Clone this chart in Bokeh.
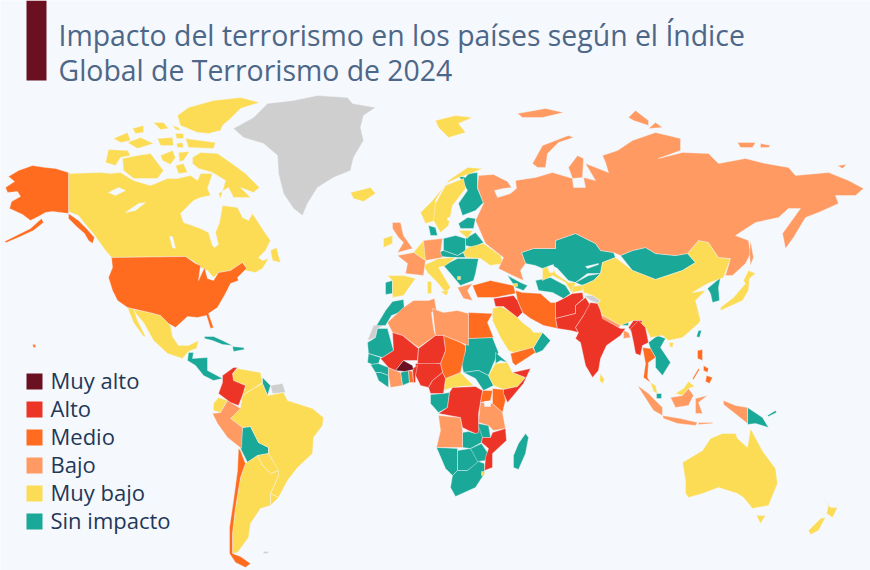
'''
Impacto del terrorismo por pais (indice global 2024), mapa coropletico con Bokeh.
Los contornos estan leidos a mano del mapa, en unidades de mapa "x,y".
'''
from bokeh.core.properties import value
from bokeh.embed import file_html
from bokeh.models import ColumnDataSource, Range1d
from bokeh.plotting import figure
from bokeh.resources import INLINE

TITLE_LINES = ["Impacto del terrorismo en los países según el Índice", "Global de Terrorismo de 2024"]
LEVELS = ["Muy alto", "Alto", "Medio", "Bajo", "Muy bajo", "Sin impacto"]
COLORS = ["#6b1020", "#ec3526", "#ff6c1f", "#ff9a62", "#fcdc55", "#1aa898"]
NO_DATA_COLOR = "#cfcfcf"
BACKGROUND = "#f5f8fc"

MUY_ALTO = {
    "Burkina Faso": "395,370 403,360 412,365 413,369 404,371",
}
ALTO = {
    "Colombia": "233,367 237,367 232,373 233,380 245,385 242,395 238,405 230,402 218,393 222,382 222,375",
    "Mali": "392,332 402,335 418,348 417,360 403,360 395,370 388,367 380,358 382,357 393,350",
    "Niger": "418,348 435,335 443,335 445,350 440,363 425,365 417,363",
    "Nigeria": "415,363 440,363 442,372 432,380 428,387 420,385 415,375",
    "Benin": "412,368 417,365 415,375 415,382 413,382",
    "Cameroon": "442,372 445,378 443,393 430,393 428,387 432,380",
    "DRC": "452,387 475,386 482,390 478,413 478,432 475,433 468,430 462,427 460,417 438,413 447,407 449,392",
    "Somalia": "512,372 530,368 523,383 507,402 503,393 503,389 517,386 525,377",
    "Mozambique": "490,437 492,432 505,428 506,440 492,453 492,467 484,470 485,457 488,448 481,442 482,437",
    "Syria Iraq": "493,298 513,295 517,300 522,312 517,317 508,310 503,306 495,306",
    "Afghanistan": "555,302 563,298 572,293 582,292 583,298 575,305 575,313 555,318",
    "Pakistan": "555,318 575,313 575,305 585,297 590,305 583,315 575,327 578,332 570,330 557,328",
    "India": "590,302 597,303 600,310 602,318 620,328 625,328 620,335 606,345 600,358 598,370 592,377 585,365 580,342 575,338 578,332 575,327 583,315",
    "India NE": "628,327 633,320 642,320 640,325 632,333",
    "Myanmar": "630,328 638,320 645,327 648,342 642,345 640,355 635,353 633,342",
}
MEDIO = {
    "Alaska": "68,172 55,168 45,167 32,165 18,170 8,176 14,181 5,187 7,192 17,191 20,196 11,201 9,208 22,214 30,220 38,216 45,212 52,211 60,212 68,213",
    "Alaska panhandle": "68,213 78,220 86,228 94,237 92,243 88,240 84,233 76,226 68,218",
    "Aleutians": "41,218 30,228 16,235 4,241 6,242 20,236 33,230 43,222",
    "USA": "111,257 185,256 195,263 200,265 198,280 204,267 207,278 213,280 218,272 230,270 242,262 246,268 237,277 238,280 230,283 225,293 217,307 208,313 213,327 210,328 206,315 197,317 187,316 175,327 168,323 160,315 153,313 140,310 127,307 117,300 112,290 108,277 112,267",
    "Hawaii": "32,344 35,344 35,347 33,347",
    "Chile": "238,448 240,450 245,463 240,477 235,507 232,533 232,553 240,556 250,563 245,567 235,562 229,553 229,527 233,500 237,470",
    "Egypt": "468,312 492,313 487,322 493,337 468,338",
    "Chad": "443,335 460,342 465,345 465,350 462,363 460,372 445,378 442,372 440,363 445,350",
    "Togo": "408,370 412,371 413,382 409,382",
    "Kenya": "492,388 503,389 505,400 502,412 492,403",
    "Uganda": "482,390 492,390 490,400 480,402",
    "Yemen": "510,353 532,347 535,352 515,365 512,362",
    "Turkey": "472,285 490,280 513,285 515,293 495,297 477,297",
    "Iran": "515,290 522,292 540,293 550,302 555,302 555,318 557,328 543,325 530,318 522,312 517,300",
    "Thailand": "642,347 650,348 655,357 648,362 647,377 650,382 643,377 645,363",
    "Luzon": "697,350 702,349 702,360 697,358",
    "Mindanao": "706,375 712,377 709,383 705,381",
    "Visayas": "703,365 708,368 707,372 703,370",
    "Palawan": "692,378 698,368 699,369 693,379",
}
BAJO = {
    "Russia": "478,175 493,174 507,181 511,187 503,188 494,190 497,197 510,193 516,188 515,180 535,177 552,172 572,178 573,187 585,187 583,177 595,180 585,163 608,172 605,162 602,155 617,150 632,140 655,132 680,138 680,150 658,158 682,152 708,153 718,163 745,158 765,163 788,167 795,175 828,172 848,180 863,188 855,195 835,195 838,203 818,212 805,217 793,237 785,248 782,233 800,208 788,208 778,217 755,222 735,235 748,240 750,253 745,263 732,275 725,275 730,258 718,257 708,242 698,240 687,253 675,255 655,253 645,247 632,250 620,255 613,252 600,250 595,243 575,233 555,240 555,248 533,248 521,252 525,263 520,270 523,280 512,275 498,268 503,257 485,243 475,220 483,203 477,187",
    "Novaya Zemlya": "532,163 542,145 568,135 573,137 558,142 547,153 545,167 537,167",
    "Yamal": "568,167 577,155 583,158 582,177 572,178",
    "Severnaya 1": "628,117 635,110 648,120 648,125 633,120",
    "Severnaya 2": "648,128 655,122 662,127",
    "Franz Josef": "517,113 545,108 563,112 542,117 522,117",
    "New Siberian 1": "737,142 755,142 752,147 740,147",
    "New Siberian 2": "760,143 770,145 768,147 760,147",
    "Wrangel": "837,165 846,164 842,168",
    "Sakhalin": "750,240 753,257 750,265 749,253",
    "Peru": "227,400 240,408 230,418 242,427 241,448 227,437 217,423 212,413 220,412",
    "Algeria Tunisia": "387,322 403,307 413,300 428,300 434,298 436,310 431,312 433,328 435,335 418,347 402,335 392,332",
    "Libya": "432,308 443,312 457,310 468,313 468,345 460,342 443,335 435,335",
    "Ivory Coast": "388,367 395,370 400,372 402,385 390,387 388,375",
    "Angola": "438,415 460,417 462,430 462,447 436,447 440,430",
    "Tanzania": "480,402 492,403 502,412 505,428 493,430 488,425 478,422",
    "Nepal": "602,315 620,325 618,327 600,318",
    "Bangladesh": "623,330 628,332 630,337 623,338",
    "Germany": "423,240 442,238 440,252 442,257 425,260",
    "UK": "392,222 400,222 403,235 412,248 397,252 403,242 398,237 392,228",
    "France": "397,255 413,252 425,260 423,275 405,273 407,263",
    "Greece": "457,287 472,283 467,290 472,300 463,298",
    "Sumatra": "637,385 648,393 662,407 662,415 653,410 642,393",
    "Java": "662,415 680,418 697,422 695,425 677,423 663,418",
    "Sunda": "698,422 712,422 712,423 698,424",
    "Borneo": "670,397 682,395 688,388 693,395 688,405 675,407",
    "Sulawesi": "695,398 707,395 698,402 702,413 695,413",
    "West Papua": "723,400 735,405 747,407 747,423 737,415 723,404",
}
MUY_BAJO = {
    "Canada": "68,173 100,172 110,173 120,172 133,180 150,185 167,178 177,178 190,175 197,180 200,173 212,173 207,188 210,195 200,197 193,200 180,213 183,222 200,228 208,232 212,245 214,247 218,244 215,232 219,222 222,205 237,207 242,217 248,220 252,213 263,230 270,240 265,250 258,257 262,260 268,258 262,268 255,272 245,270 243,262 230,270 218,272 213,277 207,270 200,267 195,262 185,256 111,257 105,250 100,243 92,232 85,224 78,215 68,211",
    "Newfoundland": "270,250 276,247 280,262 272,260",
    "Baffin": "192,157 200,152 217,153 230,162 245,173 259,187 253,192 240,187 250,197 233,197 228,187 218,193 220,198 225,180 212,172 198,168 192,163",
    "Victoria": "122,158 137,155 150,153 163,170 157,178 133,178 123,170",
    "Banks": "105,162 108,149 127,150 130,155 120,157 115,165",
    "Ellesmere": "188,107 213,100 240,97 259,102 240,108 230,118 222,125 220,130 208,133 197,132 180,125 177,115",
    "Devon": "185,138 215,142 213,148 188,147",
    "Arctic 1": "153,122 163,122 168,128 160,129",
    "Arctic 2": "172,125 178,127 180,130 175,129",
    "Arctic 3": "113,138 127,132 130,140 120,142",
    "Arctic 4": "132,128 143,125 143,132 135,133",
    "Arctic 5": "127,142 140,137 153,143 137,148",
    "Arctic 6": "157,138 172,137 173,145 160,145",
    "Arctic 7": "175,133 183,133 183,138 176,138",
    "Arctic 8": "176,143 182,142 183,147 177,147",
    "Arctic 9": "160,155 172,150 175,157 170,164 162,160",
    "Arctic 10": "178,152 189,151 183,160 179,161",
    "Arctic 11": "175,165 183,163 187,172 178,173",
    "Iceland": "350,192 370,187 375,193 363,201 353,198",
    "Mexico": "140,310 153,313 160,315 168,323 170,325 172,336 178,345 188,345 198,340 196,348 190,350 187,352 182,358 167,353 153,340 143,322 132,309",
    "Baja": "127,307 133,308 137,320 145,336 143,336 133,322",
    "Venezuela": "237,368 260,372 262,382 253,388 242,395 245,385 233,380 232,373",
    "Ecuador": "213,403 218,397 227,400 220,412 213,410",
    "Brazil": "230,418 240,407 242,395 253,388 262,383 267,395 283,392 287,400 312,408 323,417 322,425 313,437 312,453 297,467 287,480 278,497 270,493 278,475 272,460 268,453 268,447 258,442 250,426 242,427",
    "Argentina": "245,463 257,455 262,465 270,473 278,470 278,475 270,493 270,505 260,508 250,523 248,537 237,552 232,553 232,533 235,507 240,477",
    "Paraguay": "257,455 268,453 272,460 278,470 270,473 262,465",
    "Uruguay": "270,493 278,497 270,505",
    "CAR": "445,378 460,372 473,385 460,386 452,387 443,390",
    "Ethiopia": "495,363 507,362 512,372 525,377 517,386 503,389 493,385 488,375",
    "Saudi Arabia": "492,308 500,306 508,310 517,317 523,323 530,328 533,332 542,332 533,347 513,352 508,350 500,337 492,320",
    "Burundi": "479,404 482,404 482,407 479,407",
    "Eswatini": "481,471 484,471 484,475 481,475",
    "Norway": "420,212 432,200 448,180 467,167 482,168 470,173 458,177 445,183 435,200 435,220 425,223",
    "Sweden": "435,203 445,185 463,178 465,188 452,205 448,225 440,232 433,220",
    "Svalbard": "435,120 455,115 472,117 458,123 465,132 448,137 438,127",
    "Lithuania": "458,230 472,230 467,238",
    "Ukraine": "463,252 467,247 483,243 500,255 503,263 490,265 480,258 465,257",
    "Ireland": "383,238 392,235 392,243 383,247",
    "Benelux": "413,252 423,240 425,253 425,260",
    "Spain": "387,275 403,275 415,278 403,295 392,297 392,280",
    "Italy Alps": "423,265 438,258 455,257 445,265 438,267 450,287 445,292 437,282 427,272",
    "Sardinia": "427,281 431,281 431,293 427,293",
    "Sicily": "440,291 448,290 446,295",
    "Kosovo": "457,276 460,276 460,279 457,279",
    "Armenia": "513,283 517,283 517,286 513,286",
    "Uzbekistan": "542,268 552,265 555,273 568,282 575,282 572,293 565,282 552,275 542,280",
    "Tajikistan": "572,286 585,284 582,290 572,292",
    "China": "615,257 632,270 655,279 682,270 695,262 687,253 698,240 708,242 718,257 730,258 723,277 707,283 692,292 705,290 695,300 700,320 698,323 682,337 668,340 662,335 650,337 645,327 638,320 642,320 633,320 628,322 620,325 602,315 600,310 597,303 600,300 592,295 583,292 582,285 593,280 600,273 602,262",
    "Hainan": "669,342 673,342 672,347 669,346",
    "Japan": "743,280 748,270 755,273 749,278 748,290 742,300 720,310 720,307 733,297 745,283",
    "Sri Lanka": "600,373 604,379 602,383 599,380",
    "Peninsular Malaysia": "650,382 655,385 657,393 653,391",
    "North Borneo": "675,393 683,388 688,381 694,386 688,388 682,395",
    "Australia": "682,462 702,450 710,438 722,433 735,433 737,438 747,447 750,428 758,443 763,452 775,468 777,483 768,505 752,508 743,497 737,493 718,487 702,493 688,497 685,493 685,480",
    "Tasmania": "756,515 765,515 760,523",
    "NZ North": "823,497 830,507 837,507 832,517 826,513 828,505",
    "NZ South": "825,517 818,530 810,534 808,530 820,518",
}
SIN_IMPACTO = {
    "Central America": "188,352 193,352 192,358 207,357 207,370 222,378 213,380 203,375 195,365 187,360",
    "Cuba": "204,336 213,336 222,340 232,345 222,344 212,340 204,338",
    "Hispaniola": "232,346 243,347 244,349 233,351",
    "Guyana": "262,377 270,385 267,395 262,383",
    "Bolivia": "242,427 250,426 258,442 268,447 268,453 257,455 247,462 240,448",
    "Morocco": "385,310 392,301 403,299 404,310 391,315 385,325 376,325",
    "Mauritania": "377,328 387,328 393,350 382,357 368,353 367,342 375,337",
    "Senegal Guinea": "368,353 380,357 378,363 372,364 367,362",
    "Guinea": "370,364 378,363 388,367 388,375 380,372 375,372",
    "Sierra Liberia": "375,372 380,372 388,375 388,387 378,380",
    "Ghana": "400,372 404,371 408,370 409,382 402,385",
    "Sudan": "465,338 492,337 498,352 493,363 488,375 478,370 463,372 461,362 465,350",
    "South Sudan": "463,372 478,370 488,375 493,385 483,390 475,378",
    "Eritrea": "495,352 507,362 500,360 495,363",
    "Congo Gabon": "430,394 443,393 449,392 447,407 438,412 430,403",
    "Zambia": "462,432 468,431 475,433 477,423 488,425 490,437 482,437 481,442 470,448 462,447",
    "Malawi": "477,423 488,425 490,437 482,437",
    "Namibia": "436,447 457,448 457,470 452,475 445,468",
    "Botswana": "457,450 470,448 480,461 467,470 457,470",
    "Zimbabwe": "470,448 481,443 487,452 485,460 477,461",
    "South Africa": "452,475 457,470 467,470 478,461 484,463 484,473 475,487 455,496 450,487",
    "Madagascar": "525,433 528,437 525,453 518,469 513,467 513,455 518,443",
    "Oman": "542,332 550,340 542,350 535,353 533,347",
    "Finland": "458,175 465,177 468,173 477,172 477,188 483,202 475,210 462,215 458,203 467,190 463,183",
    "Denmark": "428,225 435,227 437,235 430,235",
    "Baltics": "458,223 467,217 475,218 473,228 460,228",
    "Belarus": "465,238 475,232 483,242 473,247 465,245",
    "Poland": "443,238 455,235 465,238 465,250 457,255 443,250",
    "Czech Slovakia": "438,252 443,250 457,255 463,252 465,257 452,257 440,256",
    "Portugal": "385,282 392,280 392,293 385,294",
    "Balkans": "443,265 457,258 478,258 475,273 473,280 460,285 450,273",
    "Caucasus": "507,275 520,282 527,285 523,290 515,287",
    "Kazakhstan": "521,252 533,248 555,248 555,240 575,233 595,243 600,250 613,252 615,257 602,262 600,273 587,273 575,282 568,280 557,268 552,265 542,268 535,265 525,263",
    "Turkmenistan": "535,280 550,277 565,285 570,293 563,298 552,292 538,290",
    "Kyrgyzstan": "575,282 588,275 600,273 593,280 582,285",
    "Mongolia": "620,255 632,250 645,247 655,253 675,255 687,253 695,262 682,270 655,279 632,270",
    "Koreas": "707,288 720,277 718,287 719,300 712,302 710,293",
    "Bhutan": "622,322 628,322 628,325 622,325",
    "Indochina": "648,342 657,335 665,338 660,347 670,362 662,375 655,367 655,357 650,348",
    "Singapore": "656,393 661,393 661,398 656,398",
    "PNG": "747,407 762,417 768,427 755,423 747,424",
    "New Britain": "767,415 775,410 776,412 768,416",
    "Taiwan": "698,330 701,330 699,337 696,336",
}
SIN_DATOS = {
    "Greenland": "233,128 253,117 267,103 293,100 317,95 347,97 352,103 375,107 363,115 360,127 363,140 353,157 350,170 333,177 317,187 307,203 302,215 293,208 283,193 278,173 277,155 263,143 243,137",
    "Western Sahara": "367,340 373,325 387,323 377,328 375,337",
    "Suriname Guiana": "270,385 282,383 285,392 272,393",
    "Kashmir": "583,295 592,295 600,300 597,303 590,300",
    "Falklands": "263,551 268,551 267,553 263,553",
}
WATER = {
    "Great Bear": "108,192 118,187 125,190 115,195",
    "Great Slave": "125,212 138,203 145,202 135,210",
    "Winnipeg": "169,236 172,236 175,248 172,247",
    "Vanern": "447,217 450,217 450,220 447,220",
    "Lake Victoria": "484,401 490,401 490,406 484,406",
    "Aral": "547,266 553,264 553,272 549,272",
    "Balkhash": "585,266 598,263 598,264 587,268",
}


def parse_outline(outline):
    xs, ys = [], []
    for pair in outline.split():
        x, y = pair.split(",")
        xs.append(float(x))
        ys.append(float(y))
    return xs, ys


def add_shapes(plot, shapes, color):
    outlines = [parse_outline(o) for o in shapes.values()]
    source = ColumnDataSource(data=dict(
        name=list(shapes.keys()),
        xs=[o[0] for o in outlines],
        ys=[o[1] for o in outlines],
    ))
    return plot.patches("xs", "ys", source=source, fill_color=color,
                        line_color=BACKGROUND, line_width=0.5, line_alpha=0.8)


p = figure(width=870, height=570, output_backend="svg", toolbar_location=None,
           x_range=Range1d(0, 870), y_range=Range1d(570, 0),
           x_axis_type=None, y_axis_type=None, min_border=0)
p.grid.visible = False
p.outline_line_color = None
p.background_fill_color = BACKGROUND
p.border_fill_color = BACKGROUND

add_shapes(p, SIN_DATOS, NO_DATA_COLOR)
for color, shapes in reversed(list(zip(COLORS, [MUY_ALTO, ALTO, MEDIO, BAJO, MUY_BAJO, SIN_IMPACTO]))):
    add_shapes(p, shapes, color)
add_shapes(p, WATER, BACKGROUND)

# title bar and title
p.quad(left=[26], right=[46], top=[0], bottom=[80], fill_color=COLORS[0], line_color=None)
p.text(x=[58, 58], y=[34, 69], text=TITLE_LINES, text_font=value("Open Sans"), text_font_size="28.4px",
       text_color="#4d6788", text_baseline="alphabetic")

# legend by hand: bokeh's own legend can't get rows closer than the font's line height
rows = [381 + 28 * i for i in range(len(LEVELS))]
p.quad(left=26, right=42, top=[r - 8 for r in rows], bottom=[r + 8 for r in rows],
       fill_color=COLORS, line_color=None)
p.text(x=50, y=[r - 2 for r in rows], text=LEVELS, text_font=value("Open Sans"), text_font_size="22px",
       text_color="#1f3858", text_baseline="middle")

open("out.html", "w").write(file_html(p, INLINE))
